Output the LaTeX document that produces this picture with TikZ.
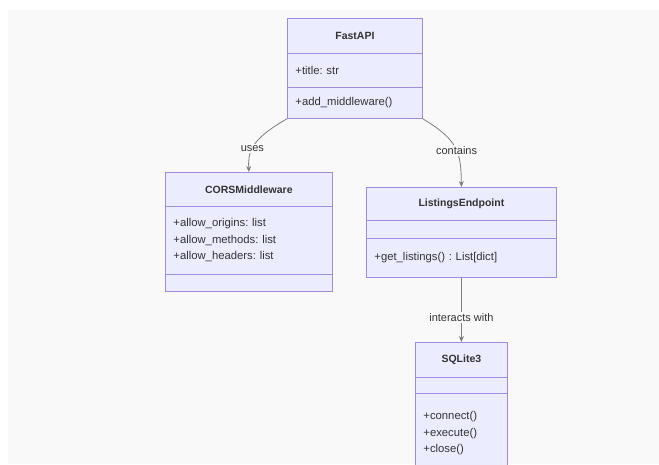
\documentclass[tikz,border=0pt]{standalone}
\usepackage{fontspec}
\setmainfont{Liberation Sans}
\frenchspacing
\definecolor{classfill}{RGB}{236, 236, 255}
\definecolor{classline}{RGB}{160, 140, 220}
\definecolor{textgray}{RGB}{51, 51, 51}
\definecolor{edgegray}{RGB}{125, 125, 125}
\definecolor{pagebg}{RGB}{249, 249, 250}
\usetikzlibrary{arrows.meta, positioning, calc}

\begin{document}
\begin{tikzpicture}[x=1pt, y=-1pt,
  classrow/.style={draw=classline, fill=classfill, line width=0.8pt, inner xsep=8pt, inner ysep=0pt,
    anchor=north west, text=textgray, font=\fontsize{11.3}{16.5}\selectfont},
  classtitle/.style={classrow, align=center, font=\fontsize{10.5}{13}\selectfont\bfseries},
  members/.style={classrow, align=left},
  assoc/.style={draw=edgegray, line width=0.8pt, -{Stealth[length=6pt, width=5pt]}},
  edgelabel/.style={fill=pagebg, inner sep=1.5pt, text=textgray, font=\fontsize{11}{13}\selectfont}
]
  \useasboundingbox (0,0) rectangle (659,464);
  \fill[white] (0,0) rectangle (659,464);
  \fill[pagebg] (8,10) rectangle (659,464);

  % FastAPI
  \node[classtitle, minimum width=135pt, minimum height=35pt, text width=119pt] (fastapiT) at (287,18) {FastAPI};
  \node[members, minimum width=135pt, minimum height=34pt, text width=119pt] (fastapiA) at (287,53) {+title: str};
  \node[members, minimum width=135pt, minimum height=31pt, text width=119pt] (fastapiM) at (287,87) {+add\_middleware()};

  % CORSMiddleware
  \node[classtitle, minimum width=167pt, minimum height=34pt, text width=151pt] (corsT) at (165,172) {CORSMiddleware};
  \node[members, minimum width=167pt, minimum height=68pt, text width=151pt] (corsA) at (165,206)
    {+allow\_origins: list\\+allow\_methods: list\\+allow\_headers: list};
  \node[members, minimum width=167pt, minimum height=17pt, text width=151pt] (corsM) at (165,274) {};

  % ListingsEndpoint
  \node[classtitle, minimum width=190pt, minimum height=33pt, text width=174pt] (listT) at (366,187) {ListingsEndpoint};
  \node[members, minimum width=190pt, minimum height=18pt, text width=174pt] (listA) at (366,220) {};
  \node[members, minimum width=190pt, minimum height=39pt, text width=174pt] (listM) at (366,238) {+get\_listings() : List[dict]};

  % SQLite3
  \node[classtitle, minimum width=92pt, minimum height=35pt, text width=76pt] (sqlT) at (415,342) {SQLite3};
  \node[members, minimum width=92pt, minimum height=16pt, text width=76pt] (sqlA) at (415,377) {};
  \node[members, minimum width=92pt, minimum height=80pt, text width=76pt] (sqlM) at (415,393)
    {+connect()\\+execute()\\+close()};

  % Relations
  \draw[assoc] (fastapiM.south west) .. controls (250,140) and (248,152) .. node[edgelabel, pos=0.55] {uses} (corsT.north);
  \draw[assoc] (fastapiM.south east) .. controls (458,140) and (461,152) .. node[edgelabel, pos=0.55] {contains} (listT.north);
  \draw[assoc] (listM.south) -- node[edgelabel, pos=0.62] {interacts with} (sqlT.north);
\end{tikzpicture}
\end{document}
